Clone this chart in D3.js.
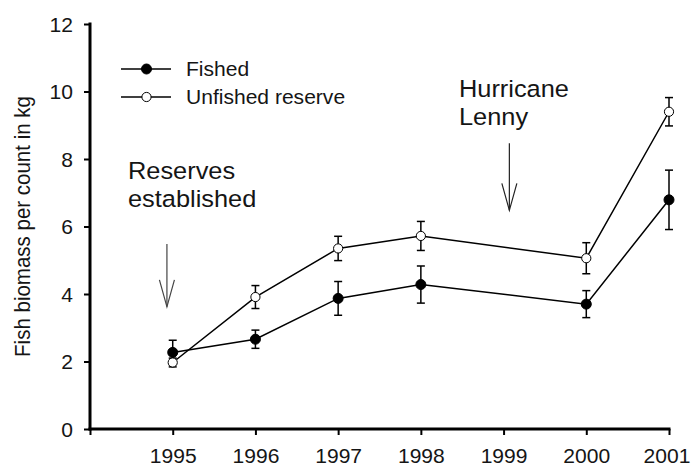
<!DOCTYPE html>
<html>
<head>
<meta charset="utf-8">
<script src="https://cdn.jsdelivr.net/npm/d3@7"></script>
<style>
  html, body { margin: 0; padding: 0; background: #fff; }
  svg { display: block; }
  text { font-family: "Liberation Sans", Arial, Helvetica, sans-serif; fill: #151515; }
</style>
</head>
<body>
<svg id="chart" width="691" height="468"></svg>
<script>
// ---- data ----
const years = [1995, 1996, 1997, 1998, 2000, 2001];
const fishedMean = [2.27, 2.66, 3.87, 4.28, 3.70, 6.79];
const fishedErr  = [0.36, 0.27, 0.50, 0.55, 0.40, 0.88];
const unfishedMean = [1.97, 3.91, 5.35, 5.72, 5.06, 9.40];
const unfishedErr  = [0.13, 0.34, 0.36, 0.43, 0.46, 0.42];
const xTickValues = [1994, 1995, 1996, 1997, 1998, 1999, 2000, 2001];
const yTickValues = [0, 2, 4, 6, 8, 10, 12];
const seriesNames = ["Fished", "Unfished reserve"];
const yTitle = "Fish biomass per count in kg";
const annotations = [
  { lines: ["Reserves", "established"], year: 1994.93 },
  { lines: ["Hurricane", "Lenny"], year: 1999.07 }
];

// ---- layout ----
const svg = d3.select("#chart");
const SX = 1.08; // horizontal glyph stretch of the reference
const x = d3.scaleLinear().domain([1994, 2001]).range([90, 669]);
const y = d3.scaleLinear().domain([0, 12]).range([429, 24]);

function stretchedText(g, tx, ty, str, size, anchor) {
  return g.append("text")
    .attr("transform", `translate(${tx},${ty}) scale(${SX},1)`)
    .attr("font-size", size)
    .attr("text-anchor", anchor || "start")
    .text(str);
}

// ---- axes ----
const yAxis = d3.axisLeft(y).tickValues(yTickValues).tickSize(6).tickSizeOuter(0).tickFormat(d3.format("d"));
const yg = svg.append("g").attr("transform", `translate(${x(1994)},0)`).call(yAxis);
yg.attr("font-family", null).attr("font-size", null);
yg.select(".domain").remove();
yg.selectAll(".tick line").attr("stroke", "#000").attr("stroke-width", 2);
yg.selectAll(".tick text")
  .attr("x", 0).attr("dy", "0.36em")
  .attr("font-size", 19.5)
  .attr("fill", "#151515")
  .attr("transform", `translate(-17,0) scale(${SX},1)`);

const xAxis = d3.axisBottom(x).tickValues(xTickValues).tickSize(6).tickSizeOuter(0)
  .tickFormat(d => d === 1994 ? "" : String(d));
const xg = svg.append("g").attr("transform", `translate(0,${y(0)})`).call(xAxis);
xg.attr("font-family", null).attr("font-size", null);
xg.select(".domain").remove();
xg.selectAll(".tick line").attr("stroke", "#000").attr("stroke-width", 2);
xg.selectAll(".tick text")
  .attr("y", 34.5).attr("dy", 0)
  .attr("font-size", 19.5)
  .attr("fill", "#151515")
  .attr("transform", d => d === 2001 ? `translate(-2.5,0) scale(${SX},1)` : `scale(${SX},1)`);

// axis lines
svg.append("line").attr("x1", x(1994)).attr("x2", x(1994)).attr("y1", y(12)).attr("y2", y(0))
  .attr("stroke", "#000").attr("stroke-width", 3).attr("stroke-linecap", "square");
svg.append("line").attr("x1", x(1994)).attr("x2", x(2001)).attr("y1", y(0)).attr("y2", y(0))
  .attr("stroke", "#000").attr("stroke-width", 3).attr("stroke-linecap", "square");

// y title
svg.append("text")
  .attr("transform", `translate(30,${(y(0) + y(12)) / 2}) rotate(-90) scale(1,${SX})`)
  .attr("text-anchor", "middle")
  .attr("font-size", 20.5)
  .text(yTitle);

// ---- series ----
const line = d3.line().x(d => x(d.year)).y(d => y(d.v));
function drawSeries(means, errs, filled) {
  const pts = years.map((yr, i) => ({ year: yr, v: means[i], e: errs[i] }));
  const g = svg.append("g");
  g.append("path").datum(pts).attr("d", line).attr("fill", "none").attr("stroke", "#000").attr("stroke-width", 1.5);
  const eb = g.selectAll("g.eb").data(pts).enter().append("g").attr("class", "eb");
  eb.append("line").attr("x1", d => x(d.year)).attr("x2", d => x(d.year))
    .attr("y1", d => y(d.v - d.e)).attr("y2", d => y(d.v + d.e))
    .attr("stroke", "#000").attr("stroke-width", 1.5);
  [1, -1].forEach(s => {
    eb.append("line").attr("x1", d => x(d.year) - 4).attr("x2", d => x(d.year) + 4)
      .attr("y1", d => y(d.v + s * d.e)).attr("y2", d => y(d.v + s * d.e))
      .attr("stroke", "#000").attr("stroke-width", 1.5);
  });
  g.selectAll("circle").data(pts).enter().append("circle")
    .attr("cx", d => x(d.year)).attr("cy", d => y(d.v))
    .attr("r", filled ? 5 : 4.6)
    .attr("fill", filled ? "#000" : "#fff")
    .attr("stroke", "#000").attr("stroke-width", 1);
}
drawSeries(fishedMean, fishedErr, true);
drawSeries(unfishedMean, unfishedErr, false);

// ---- legend ----
const leg = svg.append("g");
seriesNames.forEach((name, i) => {
  const ly = 69 + i * 28;
  leg.append("line").attr("x1", 121).attr("x2", 171).attr("y1", ly).attr("y2", ly)
    .attr("stroke", "#000").attr("stroke-width", 1.5);
  leg.append("circle").attr("cx", 146.5).attr("cy", ly).attr("r", i === 0 ? 5 : 4.6)
    .attr("fill", i === 0 ? "#000" : "#fff").attr("stroke", "#000").attr("stroke-width", 1);
  stretchedText(leg, 186, ly + 7, name, 19.5);
});

// ---- annotations ----
const ann = svg.append("g");
stretchedText(ann, 128, 179, annotations[0].lines[0], 23.5);
stretchedText(ann, 128, 207, annotations[0].lines[1], 23.5);
stretchedText(ann, 459, 96.5, annotations[1].lines[0], 23.5);
stretchedText(ann, 459, 125, annotations[1].lines[1], 23.5);

function arrow(year, yTopVal, yTipVal, color) {
  const ax = x(year), y1 = y(yTopVal), y2 = y(yTipVal);
  ann.append("line").attr("x1", ax).attr("x2", ax).attr("y1", y1).attr("y2", y2)
    .attr("stroke", color).attr("stroke-width", 1.2);
  ann.append("path")
    .attr("d", `M${ax - 7.5},${y2 - 27} L${ax},${y2} L${ax + 7.5},${y2 - 27}`)
    .attr("fill", "none").attr("stroke", color).attr("stroke-width", 1.2);
}
arrow(annotations[0].year, 5.48, 3.62, "#444");
arrow(annotations[1].year, 8.47, 6.48, "#222");
</script>
</body>
</html>
